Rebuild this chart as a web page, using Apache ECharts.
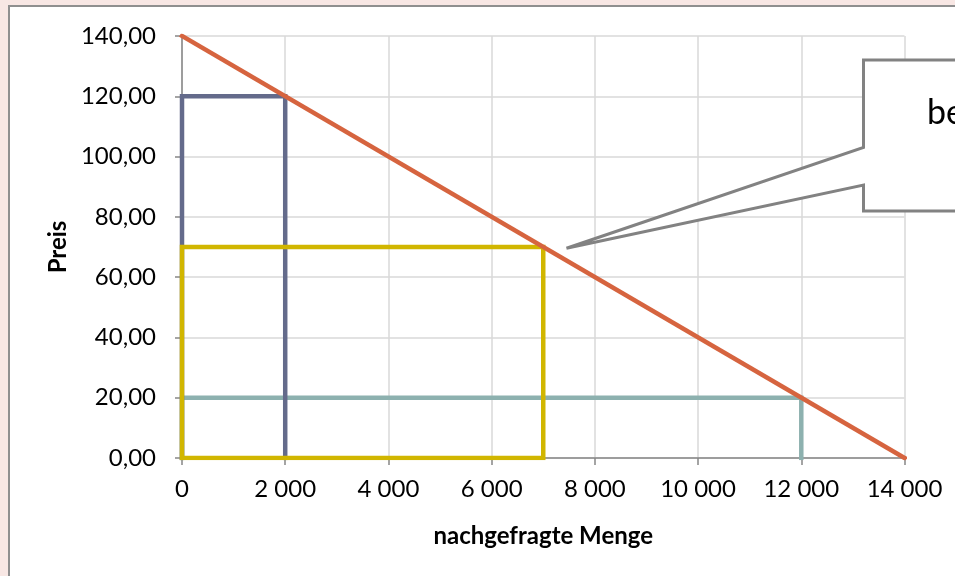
<!DOCTYPE html>
<html>
<head>
<meta charset="utf-8">
<script src="https://cdn.jsdelivr.net/npm/echarts@6/dist/echarts.min.js"></script>
<style>
  html, body { margin: 0; padding: 0; background: #f8e7e4; }
  #chart { width: 955px; height: 576px; }
</style>
</head>
<body>
<div id="chart"></div>
<script>
// Demand curve: price falls linearly from 140 to 0 as quantity rises to 14 000
const demandQty = [0, 14000];
const demandPrice = [140, 0];

// Revenue rectangles at three price points (drawn as closed outlines)
const rectHighQty = [0, 0, 2000, 2000];
const rectHighPrice = [0, 120, 120, 0];

const rectMidQty = [0, 0, 7000, 7000, 0];
const rectMidPrice = [0, 70, 70, 0, 0];

const rectLowQty = [0, 0, 12000, 12000];
const rectLowPrice = [0, 20, 20, 0];

const calloutTip = [7450, 69.6];
const calloutText = 'be';

const pairs = (xs, ys) => xs.map((x, i) => [x, ys[i]]);

const FONT = 'Lato, "Open Sans", sans-serif';

const chart = echarts.init(document.getElementById('chart'));

function lineSeries(name, data, color, z) {
  return {
    name, type: 'line', data, symbol: 'none', z,
    lineStyle: { color, width: 4.5, cap: 'square', join: 'miter' },
    animation: false
  };
}

chart.setOption({
  backgroundColor: '#f8e7e4',
  animation: false,
  grid: { left: 182, right: 50.5, top: 36, bottom: 118 },
  xAxis: {
    type: 'value', min: 0, max: 14000, interval: 2000,
    name: 'nachgefragte Menge', nameLocation: 'middle', nameGap: 66,
    nameTextStyle: { fontFamily: FONT, fontSize: 24, fontWeight: 'bold', color: '#000' },
    axisLine: { show: true, lineStyle: { color: '#868686', width: 1.5 } },
    axisTick: { show: true, length: 7, lineStyle: { color: '#868686', width: 1.5 } },
    axisLabel: {
      fontFamily: FONT, fontSize: 24, color: '#000', margin: 19,
      formatter: v => String(v).replace(/\B(?=(\d{3})+(?!\d))/g, ' ')
    },
    splitLine: { show: true, lineStyle: { color: '#d9d9d9', width: 1.5 } }
  },
  yAxis: {
    type: 'value', min: 0, max: 140, interval: 20,
    name: 'Preis', nameLocation: 'middle', nameGap: 112, nameRotate: 90,
    nameTextStyle: { fontFamily: FONT, fontSize: 24, fontWeight: 'bold', color: '#000' },
    axisLine: { show: true, lineStyle: { color: '#868686', width: 1.5 } },
    axisTick: { show: true, length: 7, lineStyle: { color: '#868686', width: 1.5 } },
    axisLabel: {
      fontFamily: FONT, fontSize: 24, color: '#000', margin: 26,
      formatter: v => v.toFixed(2).replace('.', ',')
    },
    splitLine: { show: true, lineStyle: { color: '#d9d9d9', width: 1.5 } }
  },
  series: [
    lineSeries('Menge 12 000', pairs(rectLowQty, rectLowPrice), '#8db1af', 3),
    lineSeries('Menge 2 000', pairs(rectHighQty, rectHighPrice), '#646b8b', 4),
    lineSeries('Menge 7 000', pairs(rectMidQty, rectMidPrice), '#d1b600', 5),
    lineSeries('Nachfrage', pairs(demandQty, demandPrice), '#d6643f', 6)
  ]
});

// Chart frame and the speech-bubble callout pointing at the demand curve
const tip = chart.convertToPixel({ gridIndex: 0 }, calloutTip);
chart.setOption({
  graphic: [
    {
      type: 'rect', z: -10, silent: true,
      shape: { x: 9, y: 6, width: 1000, height: 700 },
      style: { fill: '#ffffff', stroke: '#8f8f8f', lineWidth: 2 }
    },
    {
      type: 'polygon', z: 100, silent: true,
      shape: {
        points: [[863.5, 60], [1000, 60], [1000, 211], [863.5, 211], [863.5, 185],
                 tip, [863.5, 147.5]]
      },
      style: { fill: '#ffffff', stroke: '#828282', lineWidth: 3, lineJoin: 'miter' }
    },
    {
      type: 'text', z: 101, silent: true,
      x: 927, y: 96,
      style: { text: calloutText, fontFamily: FONT, fontSize: 34, fill: '#000', textVerticalAlign: 'top' }
    }
  ]
});
</script>
</body>
</html>
